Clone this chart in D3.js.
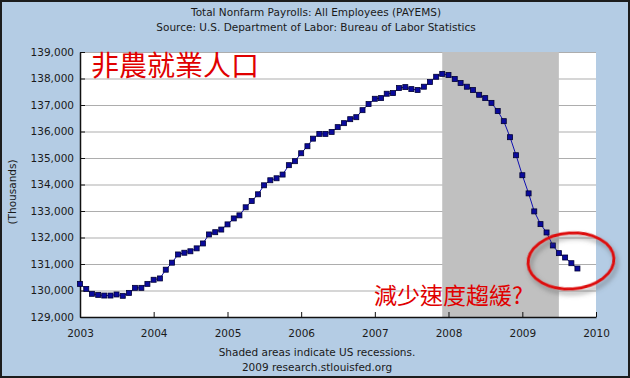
<!DOCTYPE html>
<html>
<head>
<meta charset="utf-8">
<script src="https://cdn.jsdelivr.net/npm/d3@7"></script>
<style>
body { margin: 0; }
text { font-family: "DejaVu Sans", Verdana, sans-serif; fill: #1a1a1a; }
.tick text { font-size: 10.5px; }
</style>
</head>
<body>
<div id="chart"></div>
<script>
//Global variables
const width = 630;
const height = 378;
const plotLeft = 80;
const plotRight = 596;
const plotTop = 52;
const plotBottom = 317;

//Data: monthly payrolls (thousands), Jan 2003 - Oct 2009
const startMonth = new Date(2003, 0, 1);
const payrolls = [
    130250, 130060, 129875, 129835, 129810, 129810, 129850, 129800, 129910, 130100, 130100, 130250,
    130405, 130455, 130785, 131050, 131360, 131425, 131480, 131590, 131775, 132115, 132200, 132300,
    132495, 132720, 132835, 133140, 133375, 133630, 133970, 134160, 134235, 134375, 134730, 134880,
    135180, 135445, 135730, 135910, 135910, 135985, 136165, 136315, 136465, 136540, 136805, 137035,
    137235, 137260, 137425, 137450, 137640, 137675, 137600, 137565, 137690, 137865, 138065, 138175,
    138130, 137980, 137830, 137690, 137565, 137385, 137260, 137080, 136770, 136390, 135785, 135105,
    134350, 133665, 132985, 132505, 132190, 131700, 131410, 131245, 131030, 130830
];
const recession = [new Date(2007, 11, 1), new Date(2009, 6, 1)];
const yTicks = [129000, 130000, 131000, 132000, 133000, 134000, 135000, 136000, 137000, 138000, 139000];
const xTickYears = [2003, 2004, 2005, 2006, 2007, 2008, 2009, 2010];

const titleLines = ["Total Nonfarm Payrolls: All Employees (PAYEMS)",
    "Source: U.S. Department of Labor: Bureau of Labor Statistics"];
const footLines = ["Shaded areas indicate US recessions.", "2009 research.stlouisfed.org"];

const points = payrolls.map((v, i) => ({
    date: d3.timeMonth.offset(startMonth, i),
    value: v
}));

//Scales
const xScale = d3.scaleTime()
    .domain([new Date(2003, 0, 1), new Date(2010, 0, 1)])
    .range([plotLeft, plotRight]);

const yScale = d3.scaleLinear()
    .domain([129000, 139000])
    .range([plotBottom, plotTop]);

//SVG
const svg = d3.select("#chart")
    .append("svg")
    .attr("width", width)
    .attr("height", height);

const defs = svg.append("defs");
const shadow = defs.append("filter").attr("id", "shadow")
    .attr("x", "-20%").attr("y", "-20%").attr("width", "140%").attr("height", "150%");
shadow.append("feDropShadow")
    .attr("dx", 2).attr("dy", 4).attr("stdDeviation", 2.5)
    .attr("flood-color", "#555").attr("flood-opacity", 0.6);

//Background and frame
svg.append("rect")
    .attr("x", 1).attr("y", 1)
    .attr("width", width - 2).attr("height", height - 2)
    .attr("fill", "#b4cce4")
    .attr("stroke", "#1c1c1c")
    .attr("stroke-width", 2);

//Plot area
svg.append("rect")
    .attr("x", plotLeft).attr("y", plotTop)
    .attr("width", plotRight - plotLeft).attr("height", plotBottom - plotTop)
    .attr("fill", "white");

//Gridlines
svg.append("g")
    .selectAll("line")
    .data(yTicks)
    .enter()
    .append("line")
    .attr("x1", plotLeft)
    .attr("x2", plotRight)
    .attr("y1", d => yScale(d) + 0.5)
    .attr("y2", d => yScale(d) + 0.5)
    .attr("stroke", "#adadad")
    .attr("stroke-width", 1.2);

//Recession shading
svg.append("rect")
    .attr("x", xScale(recession[0]))
    .attr("y", plotTop)
    .attr("width", xScale(recession[1]) - xScale(recession[0]))
    .attr("height", plotBottom - plotTop)
    .attr("fill", "#c0c0c0");

//Axes
const leftAxis = d3.axisLeft(yScale)
    .tickValues(yTicks)
    .tickFormat(d3.format(","))
    .tickSizeInner(-5)
    .tickSizeOuter(0)
    .tickPadding(6);

const bottomAxis = d3.axisBottom(xScale)
    .tickValues(xTickYears.map(y => new Date(y, 0, 1)))
    .tickFormat(d3.timeFormat("%Y"))
    .tickSizeInner(-5)
    .tickSizeOuter(0)
    .tickPadding(13);

const gLeft = svg.append("g")
    .attr("transform", "translate(" + plotLeft + ",0)")
    .call(leftAxis);

const gBottom = svg.append("g")
    .attr("transform", "translate(0," + plotBottom + ")")
    .call(bottomAxis);

[gLeft, gBottom].forEach(g => {
    g.select(".domain").attr("stroke", "#111").attr("stroke-width", 1.5);
    g.selectAll(".tick line").attr("stroke", "#111");
    g.selectAll(".tick text").attr("fill", "#1a1a1a");
});

//Line and markers
const line = d3.line()
    .x(d => xScale(d.date))
    .y(d => yScale(d.value));

svg.append("path")
    .datum(points)
    .attr("d", line)
    .attr("fill", "none")
    .attr("stroke", "#1010b0")
    .attr("stroke-width", 1);

svg.append("g")
    .selectAll("rect")
    .data(points)
    .enter()
    .append("rect")
    .attr("x", d => xScale(d.date) - 2.5)
    .attr("y", d => yScale(d.value) - 2.5)
    .attr("width", 5)
    .attr("height", 5)
    .attr("fill", "#0a0a9c")
    .attr("stroke", "#000033")
    .attr("stroke-width", 0.8);

//Titles
svg.append("g")
    .selectAll("text")
    .data(titleLines)
    .enter()
    .append("text")
    .attr("x", 316)
    .attr("y", (d, i) => 16 + i * 15)
    .attr("text-anchor", "middle")
    .style("font-size", "10.5px")
    .text(d => d);

svg.append("g")
    .selectAll("text")
    .data(footLines)
    .enter()
    .append("text")
    .attr("x", 317)
    .attr("y", (d, i) => 356 + i * 15)
    .attr("text-anchor", "middle")
    .style("font-size", "10.5px")
    .text(d => d);

//Y axis label
svg.append("text")
    .attr("transform", "translate(16,192) rotate(-90)")
    .attr("text-anchor", "middle")
    .style("font-size", "10.5px")
    .text("(Thousands)");

//Annotations
svg.append("text")
    .attr("x", 91)
    .attr("y", 76)
    .style("font-family", "'Noto Sans CJK TC', sans-serif")
    .style("font-size", "28px")
    .style("fill", "#e00000")
    .text("非農就業人口");

svg.append("text")
    .attr("x", 374)
    .attr("y", 304)
    .style("font-family", "'Noto Sans CJK TC', sans-serif")
    .style("font-size", "23px")
    .style("fill", "#e00000")
    .text("減少速度趨緩?");

svg.append("ellipse")
    .attr("cx", 571)
    .attr("cy", 261)
    .attr("rx", 43)
    .attr("ry", 28)
    .attr("transform", "rotate(-4,571,261)")
    .attr("fill", "none")
    .attr("stroke", "#dd1111")
    .attr("stroke-width", 3)
    .attr("filter", "url(#shadow)");
</script>
</body>
</html>
